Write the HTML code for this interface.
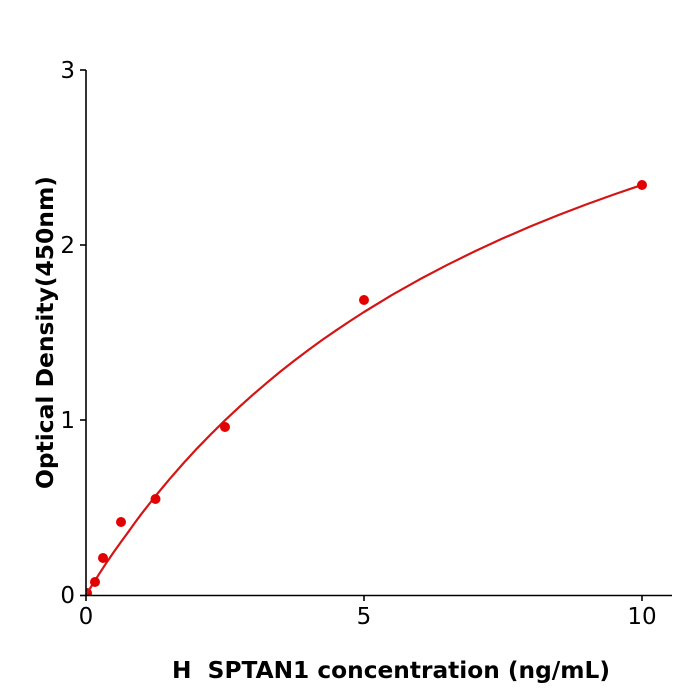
<!DOCTYPE html>
<html><head><meta charset="utf-8"><style>
html,body{margin:0;padding:0;background:#fff;}
svg{display:block;}
</style></head><body>
<svg width="700" height="700" viewBox="0 0 700 700" xmlns="http://www.w3.org/2000/svg">
<defs><clipPath id="c"><rect x="86" y="60" width="600" height="535.5"/></clipPath></defs>
<rect width="700" height="700" fill="#fff"/>
<g fill="#e30000" clip-path="url(#c)">
<circle cx="87" cy="593" r="5"/>
</g>
<polyline fill="none" stroke="#d41515" stroke-width="2.2" stroke-linejoin="round"
points="86,595 88.8,590.4 91.6,586 95.7,579.4 99.9,572.8 106.8,562.2 113.8,552 120.7,542.4 127.7,532.8 134.6,523.1 141.6,513.7 155.5,496 169.4,479.3 183.3,463.4 197.2,448.3 211.1,434 225,420.3 238.9,407.3 252.8,394.8 266.7,382.9 280.6,371.4 294.5,360.5 308.4,350 322.3,339.9 336.2,330.3 350.1,321 364,312 391.8,295.1 419.6,279.4 447.4,264.8 475.2,251.1 503,238.3 530.8,226.3 558.6,215 586.4,204.4 614.2,194.4 642,184.9"/>
<g fill="#e30000">
<circle cx="95" cy="582" r="5"/>
<circle cx="103" cy="558" r="5"/>
<circle cx="121" cy="522" r="5"/>
<circle cx="155.5" cy="499" r="5"/>
<circle cx="225" cy="427" r="5"/>
<circle cx="364" cy="300" r="5"/>
<circle cx="642" cy="185" r="5"/>
</g>
<g stroke="#000" stroke-width="1.6" fill="none">
<line x1="86" y1="70" x2="86" y2="596"/>
<line x1="85" y1="595.5" x2="672" y2="595.5"/>
<line x1="80" y1="70" x2="86" y2="70"/>
<line x1="80" y1="245" x2="86" y2="245"/>
<line x1="80" y1="420" x2="86" y2="420"/>
<line x1="80" y1="595.5" x2="86" y2="595.5"/>
<line x1="86" y1="595" x2="86" y2="601"/>
<line x1="364" y1="595" x2="364" y2="601"/>
<line x1="642" y1="595" x2="642" y2="601"/>
</g>
<g font-family="'DejaVu Sans','Liberation Sans',sans-serif" font-size="23" fill="#000">
<text x="75" y="78" text-anchor="end">3</text>
<text x="75" y="253" text-anchor="end">2</text>
<text x="75" y="428" text-anchor="end">1</text>
<text x="75" y="603" text-anchor="end">0</text>
<text x="86" y="624" text-anchor="middle">0</text>
<text x="364" y="624" text-anchor="middle">5</text>
<text x="642" y="624" text-anchor="middle">10</text>
</g>
<g font-family="'DejaVu Sans','Liberation Sans',sans-serif" font-size="23" font-weight="bold" fill="#000">
<text x="172" y="678" textLength="438" lengthAdjust="spacingAndGlyphs" xml:space="preserve">H  SPTAN1 concentration (ng/mL)</text>
<text transform="translate(53,489) rotate(-90)" x="0" y="0" textLength="313" lengthAdjust="spacingAndGlyphs">Optical Density(450nm)</text>
</g>
</svg>
</body></html>
